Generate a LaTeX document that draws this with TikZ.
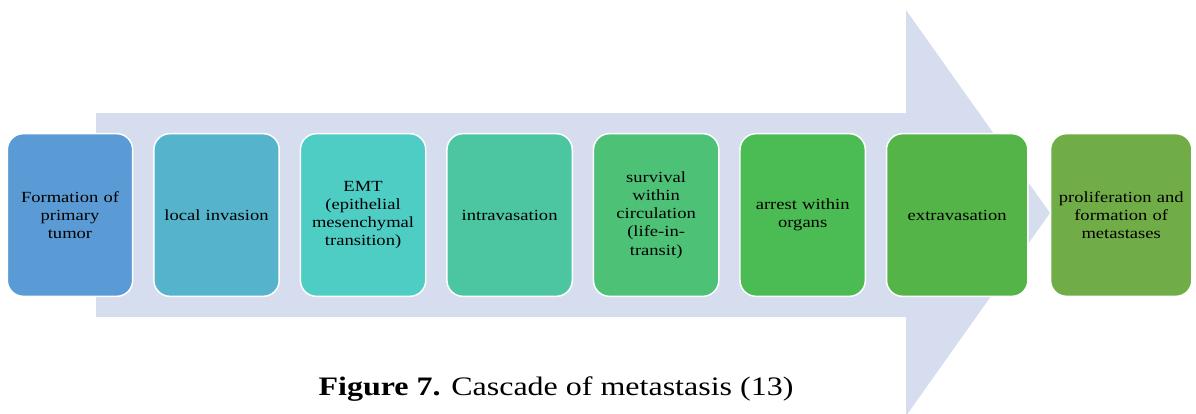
\documentclass[tikz,border=0pt]{standalone}
\usepackage{fontspec}
\setmainfont{Liberation Serif}[FakeStretch=1.2]
\usetikzlibrary{positioning}
\definecolor{arrowbg}{HTML}{D5DDEE}
\definecolor{stageA}{HTML}{5B9BD5}
\definecolor{stageB}{HTML}{55B4CC}
\definecolor{stageC}{HTML}{4ECDC4}
\definecolor{stageD}{HTML}{4CC6A1}
\definecolor{stageE}{HTML}{4DC277}
\definecolor{stageF}{HTML}{4BBB53}
\definecolor{stageG}{HTML}{55B447}
\definecolor{stageH}{HTML}{70AD47}
\tikzset{stage/.style={draw=white,line width=1.1pt,rounded corners=12pt,
	minimum width=94pt,minimum height=122pt,text width=88pt,align=center,
	inner sep=0pt,outer sep=0pt,text=black,font=\fontsize{11.6}{13.7}\selectfont},
	widestage/.style={stage,minimum width=106pt,text width=100pt}}
\begin{document}
\begin{tikzpicture}[x=0.75pt,y=-0.75pt,node distance=15.9pt]
\useasboundingbox (0,0) rectangle (1196,414);
\begin{scope}
\clip (0,0) rectangle (1196,414);
\fill[arrowbg] (96,113) -- (906,113) -- (906,10) -- (1050,213) -- (906,416)
	-- (906,317) -- (96,317) -- cycle;
\end{scope}
\node[stage,fill=stageA] (tumor) at (70,215) {Formation of\\primary\\tumor};
\node[stage,fill=stageB,right=of tumor] (invasion) {local invasion};
\node[stage,fill=stageC,right=of invasion] (emt) {EMT\\(epithelial\\mesenchymal\\transition)};
\node[stage,fill=stageD,right=of emt] (intra) {intravasation};
\node[stage,fill=stageE,right=of intra] (survival) {survival\\within\\circulation\\(life-in-\\transit)};
\node[stage,fill=stageF,right=of survival] (arrest) {arrest within\\organs};
\node[widestage,fill=stageG,right=of arrest] (extra) {extravasation};
\node[widestage,fill=stageH,right=17pt of extra] (prolif) {proliferation and\\formation of\\metastases};
\node[anchor=base,font=\fontsize{20}{24}\selectfont] (caption) at (556,395)
	{\textbf{Figure 7.} Cascade of metastasis (13)};
\end{tikzpicture}
\end{document}
